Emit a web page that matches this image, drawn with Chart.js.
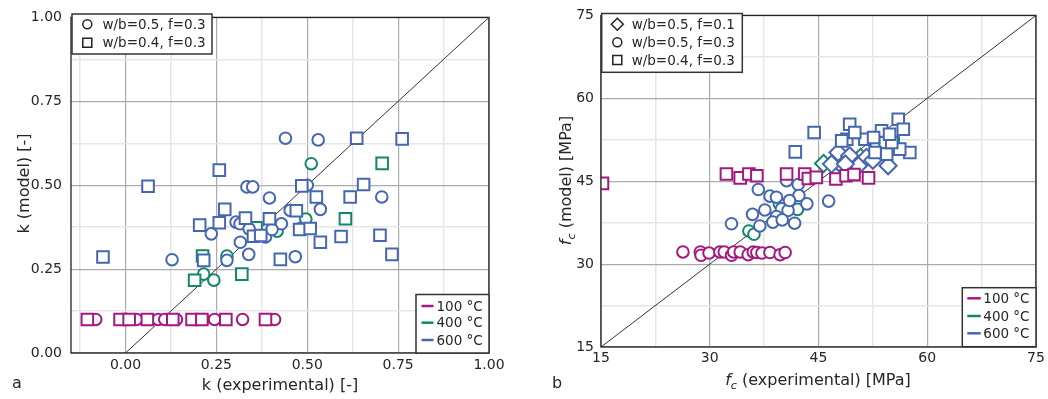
<!DOCTYPE html>
<html>
<head>
<meta charset="utf-8">
<script src="https://cdn.jsdelivr.net/npm/chart.js@4"></script>
<style>
  body { margin: 0; background: #fff; }
  #wrap { position: relative; width: 1048px; height: 399px; }
  canvas { position: absolute; top: 0; }
</style>
</head>
<body>
<div id="wrap">
  <canvas id="chartA" width="524" height="399" style="left:0"></canvas>
  <canvas id="chartB" width="524" height="399" style="left:524px"></canvas>
</div>
<script>
// ---- panel a: k (experimental) vs k (model), [x, y] pairs ----
const k100Circ = [[-0.082, 0.1], [0.005, 0.1], [0.03, 0.1], [0.09, 0.1], [0.108, 0.1], [0.14, 0.1],
                  [0.215, 0.1], [0.245, 0.1], [0.322, 0.1], [0.39, 0.1], [0.41, 0.1]];
const k100Sq = [[-0.105, 0.1], [-0.015, 0.1], [0.01, 0.1], [0.06, 0.1], [0.13, 0.1], [0.183, 0.1],
                [0.21, 0.1], [0.276, 0.1], [0.385, 0.1]];
const k400Circ = [[0.511, 0.564], [0.496, 0.399], [0.417, 0.363], [0.279, 0.289], [0.215, 0.235], [0.243, 0.217]];
const k400Sq = [[0.706, 0.565], [0.605, 0.40], [0.359, 0.373], [0.212, 0.289], [0.19, 0.217], [0.32, 0.235]];
const k600Circ = [[0.44, 0.64], [0.53, 0.635], [0.334, 0.495], [0.35, 0.495], [0.50, 0.50], [0.396, 0.462],
                  [0.705, 0.465], [0.453, 0.425], [0.536, 0.428], [0.304, 0.39], [0.315, 0.385], [0.429, 0.385],
                  [0.236, 0.355], [0.316, 0.33], [0.128, 0.278], [0.279, 0.276], [0.339, 0.294], [0.467, 0.287],
                  [0.481, 0.371], [0.385, 0.346], [0.403, 0.368], [0.34, 0.37]];
const k600Sq = [[0.258, 0.545], [0.062, 0.497], [0.636, 0.64], [0.761, 0.638], [0.485, 0.498], [0.655, 0.502],
                [0.525, 0.465], [0.618, 0.465], [0.273, 0.428], [0.47, 0.424], [0.204, 0.381], [0.258, 0.388],
                [0.33, 0.402], [0.396, 0.40], [0.479, 0.368], [0.508, 0.371], [0.352, 0.348], [0.536, 0.33],
                [0.593, 0.347], [0.70, 0.351], [0.733, 0.294], [0.426, 0.279], [-0.062, 0.286], [0.215, 0.276],
                [0.372, 0.35]];
const kDiag = [[0, 0], [1, 1]];
const kTicks = [-0.125, 0, 0.125, 0.25, 0.375, 0.5, 0.625, 0.75, 0.875, 1];
const kTicksY = [0, 0.125, 0.25, 0.375, 0.5, 0.625, 0.75, 0.875, 1];

// ---- panel b: fc (experimental) vs fc (model) [MPa] ----
const fc100Circ = [[26.3, 32.2], [28.7, 32.2], [28.8, 31.6], [29.9, 32.0], [31.4, 32.2], [32.0, 32.2],
                   [33.0, 31.6], [33.3, 32.2], [34.2, 32.2], [35.3, 31.7], [36.0, 32.2], [36.5, 32.1],
                   [37.2, 32.0], [38.3, 32.1], [39.7, 31.7], [40.4, 32.1]];
const fc100Sq = [[15.2, 44.6], [32.3, 46.3], [34.2, 45.6], [35.4, 46.3], [36.5, 46.0], [40.6, 46.3],
                 [43.1, 46.3], [43.6, 45.5], [44.7, 45.7], [47.4, 45.4], [48.8, 46.0], [49.9, 46.2], [51.9, 45.6]];
const fc400Circ = [[39.6, 40.9], [42.1, 39.9], [35.4, 36.0], [36.1, 35.4]];
const fc400Sq = [[54.2, 52.0], [55.3, 51.9]];
const fc400Dia = [[45.7, 48.2], [48.4, 47.6], [50.8, 49.3]];
const fc600Circ = [[40.6, 45.1], [42.2, 44.4], [36.7, 43.5], [38.3, 42.3], [39.2, 42.1], [42.3, 42.4],
                   [46.4, 41.4], [43.4, 40.9], [37.6, 39.8], [39.9, 40.0], [40.8, 39.7], [35.9, 39.0],
                   [39.2, 38.6], [36.9, 36.9], [38.7, 37.6], [41.7, 37.4], [33.0, 37.3], [41.0, 41.5], [40.0, 38.0]];
const fc600Sq = [[44.4, 53.8], [41.8, 50.3], [56.0, 56.2], [56.7, 54.4], [49.3, 55.3], [53.7, 54.1],
                 [48.9, 52.6], [51.4, 52.6], [50.0, 53.8], [52.6, 52.9], [57.6, 50.2], [56.2, 50.8],
                 [54.4, 49.9], [52.8, 50.2], [48.2, 52.3], [55.1, 52.0], [54.8, 53.5]];
const fc600Dia = [[47.7, 50.2], [46.8, 48.1], [49.3, 49.6], [51.6, 49.3], [50.5, 47.8], [54.6, 47.8],
                  [48.7, 48.1], [52.5, 48.8]];
const fcDiag = [[15, 15], [75, 75]];
const fcTicks = [15, 22.5, 30, 37.5, 45, 52.5, 60, 67.5, 75];

const tempLabels = ['100 °C', '400 °C', '600 °C'];
const mixLabelsA = ['w/b=0.5, f=0.3', 'w/b=0.4, f=0.3'];
const mixLabelsB = ['w/b=0.5, f=0.1', 'w/b=0.5, f=0.3', 'w/b=0.4, f=0.3'];

const C100 = '#a3197f', C400 = '#12876a', C600 = '#4666b0';
const FONT = "'DejaVu Sans', sans-serif";
const RAD = { circle: 5.8, rect: 8.2, rectRot: 8.6 };

function ds(data, color, shape) {
  return {
    data: data.map(p => ({ x: p[0], y: p[1] })),
    pointStyle: shape,
    pointRadius: RAD[shape],
    pointHoverRadius: RAD[shape],
    borderColor: color,
    backgroundColor: '#fff',
    pointBorderWidth: 2,
    showLine: false,
    order: 1
  };
}

function diag(data) {
  return {
    data: data.map(p => ({ x: p[0], y: p[1] })),
    showLine: true, pointRadius: 0, borderColor: '#333', borderWidth: 1, order: 10
  };
}

function axis(min, max, ticks, majorStep, digits, isX, size, pad) {
  const isMajor = v => Math.abs(v / majorStep - Math.round(v / majorStep)) < 1e-6;
  return {
    type: 'linear', min: min, max: max,
    afterBuildTicks: s => { s.ticks = ticks.map(v => ({ value: v })); },
    afterFit: s => { if (isX) s.height = size; else s.width = size; },
    grid: {
      drawTicks: false,
      color: c => (c.tick && isMajor(c.tick.value)) ? '#ababab' : '#e6e6e6',
      lineWidth: c => (c.tick && isMajor(c.tick.value)) ? 1.2 : 1.5
    },
    border: { display: false },
    ticks: {
      autoSkip: false, maxRotation: 0, padding: pad,
      color: '#262626', font: { family: FONT, size: 14 },
      callback: v => isMajor(v) ? v.toFixed(digits) : ''
    }
  };
}

function marker(ctx, shape, x, y) {
  ctx.beginPath();
  if (shape === 'circle') ctx.arc(x, y, 4.5, 0, Math.PI * 2);
  else if (shape === 'rect') ctx.rect(x - 4.5, y - 4.5, 9, 9);
  else { ctx.moveTo(x, y - 6); ctx.lineTo(x + 6, y); ctx.lineTo(x, y + 6); ctx.lineTo(x - 6, y); ctx.closePath(); }
  ctx.stroke();
}

// writes pieces [{t, italic, sub}] centred at (0,0) of the current transform
function richText(ctx, pieces, size) {
  const fonts = pieces.map(p => (p.italic ? 'italic ' : '') + (p.sub ? size * 0.7 : size) + 'px ' + FONT);
  let total = 0;
  const w = pieces.map((p, i) => { ctx.font = fonts[i]; const m = ctx.measureText(p.t).width; total += m; return m; });
  let x = -total / 2;
  ctx.textAlign = 'left';
  ctx.textBaseline = 'alphabetic';
  pieces.forEach((p, i) => {
    ctx.font = fonts[i];
    ctx.fillText(p.t, x, p.sub ? size * 0.25 : 0);
    x += w[i];
  });
}

const decor = {
  id: 'decor',
  afterDraw(chart, args, o) {
    const ctx = chart.ctx, a = chart.chartArea;
    ctx.save();
    // frame
    ctx.strokeStyle = '#222'; ctx.lineWidth = 1.3;
    ctx.strokeRect(a.left, a.top, a.right - a.left, a.bottom - a.top);

    // marker legend
    const m = o.mix;
    ctx.fillStyle = '#fff'; ctx.strokeStyle = '#333'; ctx.lineWidth = 1.5;
    ctx.fillRect(m.x0, m.y0, m.x1 - m.x0, m.y1 - m.y0);
    ctx.strokeRect(m.x0, m.y0, m.x1 - m.x0, m.y1 - m.y0);
    ctx.font = '13.5px ' + FONT; ctx.textBaseline = 'middle'; ctx.textAlign = 'left';
    m.labels.forEach((lab, i) => {
      ctx.strokeStyle = '#222'; ctx.lineWidth = 1.5;
      marker(ctx, m.shapes[i], m.mx, m.rows[i]);
      ctx.fillStyle = '#262626';
      ctx.fillText(lab, m.tx, m.rows[i] + 1);
    });

    // temperature legend
    const t = o.temp;
    ctx.fillStyle = '#fff'; ctx.strokeStyle = '#333'; ctx.lineWidth = 1.5;
    ctx.fillRect(t.x0, t.y0, t.x1 - t.x0, t.y1 - t.y0);
    ctx.strokeRect(t.x0, t.y0, t.x1 - t.x0, t.y1 - t.y0);
    tempLabels.forEach((lab, i) => {
      ctx.strokeStyle = [C100, C400, C600][i]; ctx.lineWidth = 2.5;
      ctx.beginPath(); ctx.moveTo(t.l0, t.rows[i]); ctx.lineTo(t.l1, t.rows[i]); ctx.stroke();
      ctx.fillStyle = '#262626'; ctx.font = '13.5px ' + FONT; ctx.textBaseline = 'middle'; ctx.textAlign = 'left';
      ctx.fillText(lab, t.tx, t.rows[i] + 1);
    });

    // axis titles and panel letter
    ctx.fillStyle = '#262626';
    ctx.save(); ctx.translate(o.xt.x, o.xt.y); richText(ctx, o.xt.pieces, 16); ctx.restore();
    ctx.save(); ctx.translate(o.yt.x, o.yt.y); ctx.rotate(-Math.PI / 2); richText(ctx, o.yt.pieces, 16); ctx.restore();
    ctx.font = '16px ' + FONT; ctx.textAlign = 'left'; ctx.textBaseline = 'alphabetic';
    ctx.fillText(o.letter.t, o.letter.x, o.letter.y);
    ctx.restore();
  }
};

function scatter(id, datasets, scales, padding, deco) {
  return new Chart(document.getElementById(id), {
    type: 'scatter',
    data: { datasets: datasets },
    options: {
      responsive: false, animation: false, events: [],
      layout: { padding: padding },
      scales: scales,
      plugins: { legend: { display: false }, tooltip: { enabled: false }, decor: deco }
    },
    plugins: [decor]
  });
}

scatter('chartA', [
  diag(kDiag),
  ds(k100Sq, C100, 'rect'), ds(k100Circ, C100, 'circle'),
  ds(k600Sq, C600, 'rect'), ds(k600Circ, C600, 'circle'),
  ds(k400Sq, C400, 'rect'), ds(k400Circ, C400, 'circle')
], {
  x: axis(-0.15, 1.0, kTicks, 0.25, 2, true, 46, 4),
  y: axis(0, 1.0, kTicksY, 0.25, 2, false, 71, 9)
}, { top: 14, right: 35, left: 0, bottom: 0 }, {
  mix: { x0: 72, y0: 14, x1: 212, y1: 54, rows: [24.3, 42.7], mx: 87.3, tx: 102.5,
         labels: mixLabelsA, shapes: ['circle', 'rect'] },
  temp: { x0: 416, y0: 294.5, x1: 489, y1: 353, rows: [306, 322.7, 340], l0: 421.5, l1: 433.5, tx: 436.5 },
  xt: { x: 280, y: 390, pieces: [{ t: 'k (experimental) [-]' }] },
  yt: { x: 29, y: 183.5, pieces: [{ t: 'k (model) [-]' }] },
  letter: { t: 'a', x: 12, y: 388 }
});

scatter('chartB', [
  diag(fcDiag),
  ds(fc100Sq, C100, 'rect'), ds(fc100Circ, C100, 'circle'),
  ds(fc600Sq, C600, 'rect'), ds(fc600Circ, C600, 'circle'), ds(fc600Dia, C600, 'rectRot'),
  ds(fc400Sq, C400, 'rect'), ds(fc400Circ, C400, 'circle'), ds(fc400Dia, C400, 'rectRot')
], {
  x: axis(15, 75, fcTicks, 15, 0, true, 52, 3),
  y: axis(15, 75, fcTicks, 15, 0, false, 77, 7)
}, { top: 14, right: 12, left: 0, bottom: 0 }, {
  mix: { x0: 77.7, y0: 13.5, x1: 218.3, y1: 72.3, rows: [24.3, 42.3, 60], mx: 93.3, tx: 107.7,
         labels: mixLabelsB, shapes: ['rectRot', 'circle', 'rect'] },
  temp: { x0: 438.3, y0: 287.7, x1: 512, y1: 346.7, rows: [298.3, 316, 333.3], l0: 443.3, l1: 456.7, tx: 459.3 },
  xt: { x: 294, y: 385, pieces: [{ t: 'f', italic: true }, { t: 'c', italic: true, sub: true }, { t: ' (experimental) [MPa]' }] },
  yt: { x: 47, y: 180.5, pieces: [{ t: 'f', italic: true }, { t: 'c', italic: true, sub: true }, { t: ' (model) [MPa]' }] },
  letter: { t: 'b', x: 28, y: 388 }
});
</script>
</body>
</html>
